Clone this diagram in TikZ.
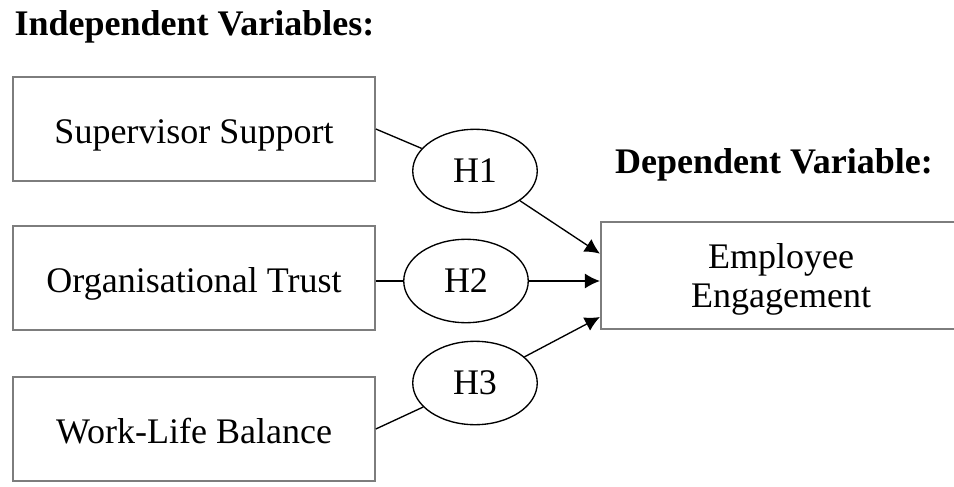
\documentclass[tikz,border=0pt]{standalone}
\usepackage{fontspec}
\setmainfont{Liberation Serif}
\usepackage{tikz}
\usetikzlibrary{shapes.geometric}
\usetikzlibrary{arrows.meta}
\usetikzlibrary{calc}
\usetikzlibrary{positioning}
\definecolor{boxgray}{RGB}{125,125,125}

\begin{document}
\begin{tikzpicture}[x=0.3333pt, y=-0.3333pt,
    font=\fontsize{12}{13}\selectfont,
    varbox/.style = {rectangle, draw=boxgray, line width=0.7pt, minimum width=120.5pt, minimum height=34.7pt, inner sep=0pt, align=center, text height=12pt, text depth=2.6pt},
    hypo/.style = {ellipse, draw, line width=0.45pt, minimum width=41.5pt, minimum height=27.8pt, inner sep=0pt},
    heading/.style = {font=\fontsize{12}{13}\selectfont\bfseries},
    link/.style = {draw, line width=0.45pt},
    effect/.style = {draw, line width=0.45pt, -{Latex[length=5pt,width=5pt]}}]
    \useasboundingbox (0,0) rectangle (954,487);
    \clip (0,0) rectangle (954,487);
    % headings
    \node [heading, anchor=base west, inner sep=0pt] (indep) at (14,35) {Independent Variables:};
    \node [heading, anchor=base, inner sep=0pt] (dep) at (774,173) {Dependent Variable:};
    % variables
    \node [varbox] (supp) at (194,129) {Supervisor Support};
    \node [varbox] (trust) at (194,278) {Organisational Trust};
    \node [varbox] (balance) at (194,429) {Work-Life Balance};
    \node [varbox, minimum width=120pt, minimum height=35.7pt, text height=23.6pt, text depth=2.6pt] (engage) at (781,275.5) {Employee\\Engagement};
    % hypotheses
    \node [hypo] (h1) at (475,171) {H1};
    \node [hypo] (h2) at (466,281) {H2};
    \node [hypo] (h3) at (475,383) {H3};
    \coordinate (e1) at ($(engage.north west)!0.3!(engage.south west)$);
    \coordinate (e3) at ($(engage.north west)!0.88!(engage.south west)$);
    % connectors
    \path [link] (supp.east) -- (h1);
    \path [link] (trust.east |- h2) -- (h2);
    \path [link] (balance.east) -- (h3);
    \path [effect] (h1) -- (e1);
    \path [effect] (h2) -- (h2 -| engage.west);
    \path [effect] (h3) -- (e3);
\end{tikzpicture}
\end{document}
